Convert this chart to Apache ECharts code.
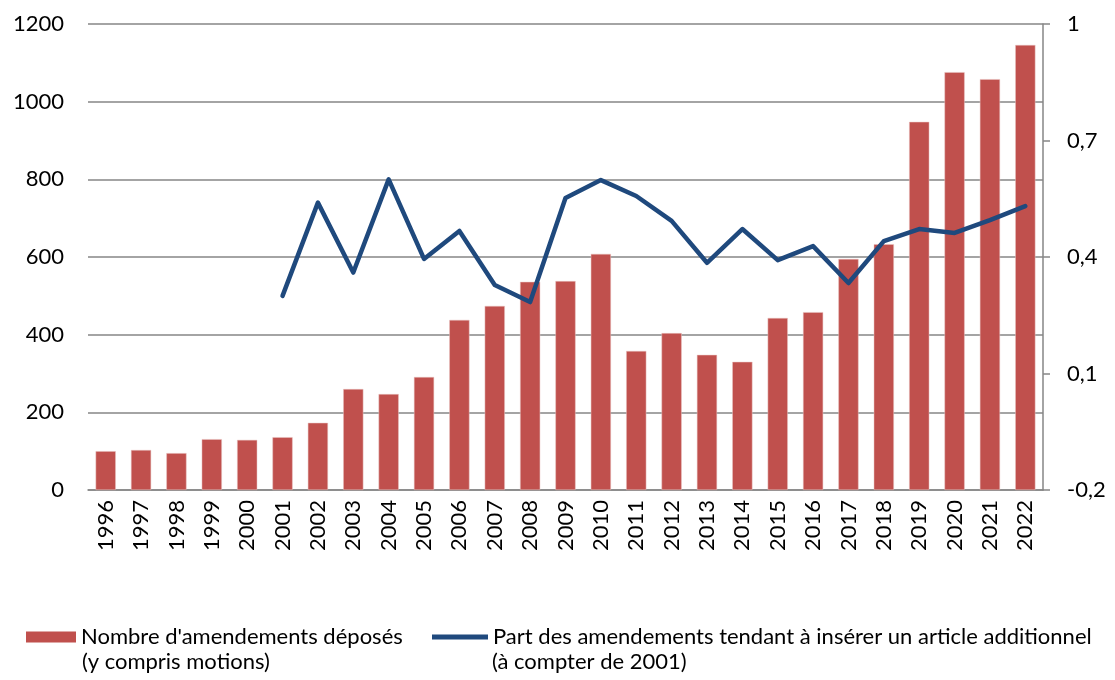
<!DOCTYPE html>
<html>
<head>
<meta charset="utf-8">
<script src="https://cdn.jsdelivr.net/npm/echarts@6/dist/echarts.min.js"></script>
<style>
  html, body { margin: 0; padding: 0; background: #fff; }
  #chart { width: 1115px; height: 680px; }
</style>
</head>
<body>
<div id="chart"></div>
<script>
// années
var years = ['1996', '1997', '1998', '1999', '2000', '2001', '2002', '2003', '2004', '2005',
  '2006', '2007', '2008', '2009', '2010', '2011', '2012', '2013', '2014', '2015',
  '2016', '2017', '2018', '2019', '2020', '2021', '2022']

// nombre d'amendements déposés
var amendements = [100, 103, 95, 131, 129, 136, 173, 260, 247, 291,
  438, 474, 536, 538, 608, 358, 404, 348, 330, 443,
  458, 595, 633, 948, 1076, 1058, 1146]

// part des articles additionnels (à partir de 2001)
var partAdditionnels = [null, null, null, null, null, 0.30, 0.54, 0.36, 0.60, 0.395,
  0.467, 0.328, 0.284, 0.552, 0.598, 0.557, 0.493, 0.385, 0.472, 0.392,
  0.428, 0.333, 0.441, 0.472, 0.462, 0.495, 0.531]

var barName = "Nombre d'amendements déposés"
var barName2 = '(y compris motions)'
var lineName = 'Part des amendements tendant à insérer un article additionnel'
var lineName2 = '(à compter de 2001)'

var FONT = 'Lato, "Open Sans", sans-serif'
var FS = 22

var chart = echarts.init(document.getElementById('chart'))

var option = {
  animation: false,
  textStyle: { fontFamily: FONT, color: '#000' },
  grid: { left: 88, right: 72, top: 24, bottom: 190 },
  legend: [
    {
      left: 21,
      top: 621,
      itemWidth: 50,
      itemHeight: 11,
      itemStyle: { borderWidth: 0 },
      textStyle: { fontFamily: FONT, fontSize: FS, color: '#000' },
      data: [{ name: barName, icon: 'rect' }]
    },
    {
      left: 427,
      top: 621,
      itemWidth: 56,
      itemHeight: 5,
      textStyle: { fontFamily: FONT, fontSize: FS, color: '#000' },
      data: [{ name: lineName, icon: 'rect' }]
    }
  ],
  graphic: [
    {
      type: 'text',
      left: 82,
      top: 651,
      style: { text: barName2, font: FS + 'px ' + FONT, fill: '#000' }
    },
    {
      type: 'text',
      left: 492,
      top: 651,
      style: { text: lineName2, font: FS + 'px ' + FONT, fill: '#000' }
    }
  ],
  xAxis: {
    type: 'category',
    data: years,
    axisLine: { lineStyle: { color: '#868686', width: 1.5 } },
    axisTick: { show: false },
    axisLabel: {
      rotate: 90,
      interval: 0,
      fontSize: FS,
      color: '#000',
      fontFamily: FONT,
      margin: 10
    }
  },
  yAxis: [
    {
      type: 'value',
      min: 0,
      max: 1200,
      interval: 200,
      axisLine: { show: false },
      axisTick: { show: false },
      axisLabel: {
        fontSize: FS,
        color: '#000',
        fontFamily: FONT,
        margin: 24,
        formatter: function (v) { return String(v) }
      },
      splitLine: { lineStyle: { color: '#868686', width: 1.5 } }
    },
    {
      type: 'value',
      min: -0.2,
      max: 1,
      interval: 0.3,
      position: 'right',
      axisLine: { show: true, lineStyle: { color: '#868686', width: 1.5 } },
      axisTick: { show: true, length: 7, lineStyle: { color: '#868686', width: 1.5 } },
      splitLine: { show: false },
      axisLabel: {
        fontSize: FS,
        color: '#000',
        fontFamily: FONT,
        margin: 24,
        formatter: function (v) {
          return String(Number(v.toFixed(1))).replace('.', ',')
        }
      }
    }
  ],
  series: [
    {
      name: barName,
      type: 'bar',
      data: amendements,
      barCategoryGap: '43%',
      itemStyle: { color: '#C0504D', borderColor: '#E8C4C3', borderWidth: 0.5 }
    },
    {
      name: lineName,
      type: 'line',
      yAxisIndex: 1,
      data: partAdditionnels,
      symbol: 'none',
      lineStyle: { color: '#1F497D', width: 4.5, join: 'round', cap: 'round' },
      itemStyle: { color: '#1F497D' }
    }
  ]
}

chart.setOption(option)
</script>
</body>
</html>
